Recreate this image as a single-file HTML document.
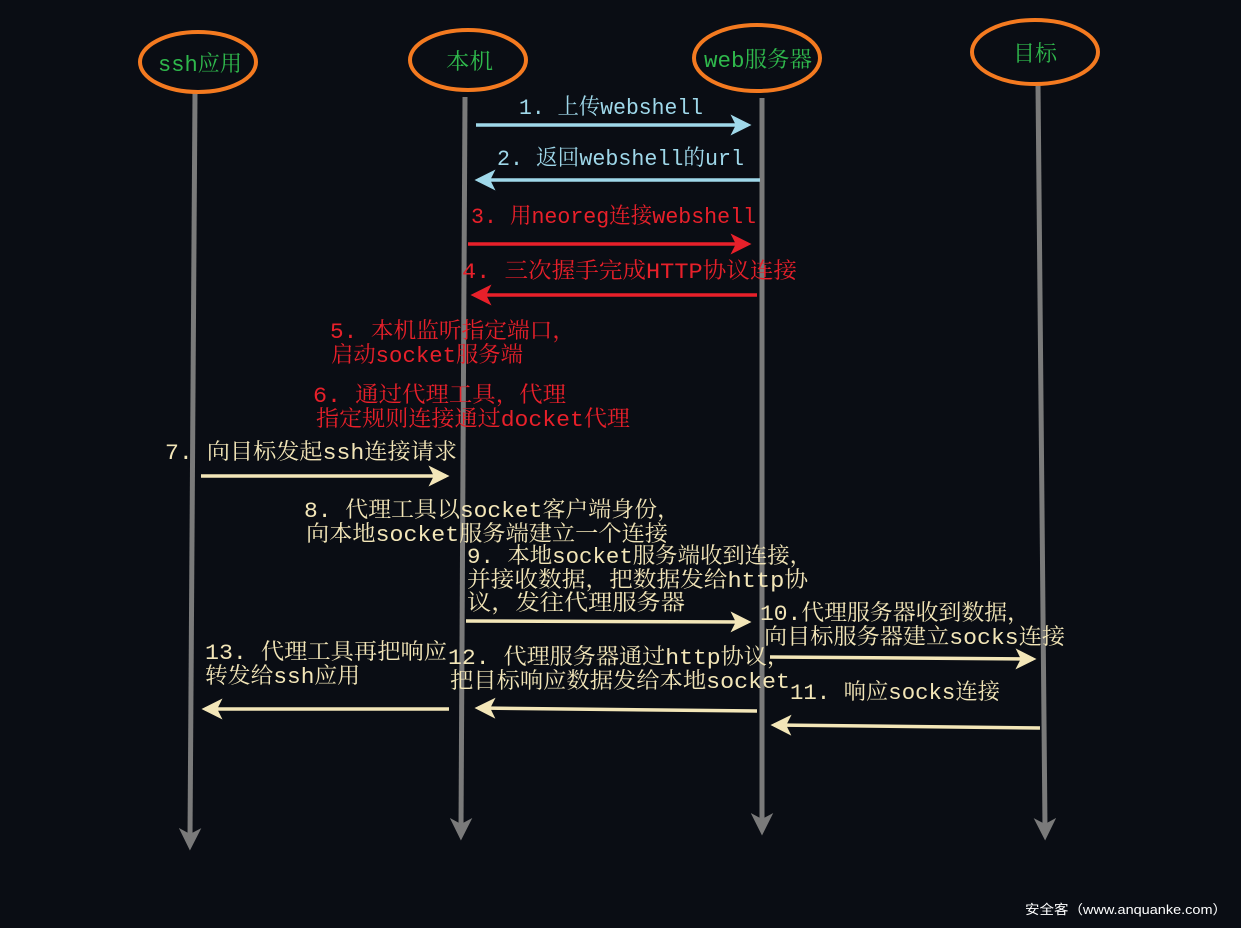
<!DOCTYPE html>
<html><head><meta charset="utf-8"><style>
html,body{margin:0;padding:0;background:#0a0d14;}
svg{display:block}
text{font-family:"Liberation Mono","Noto Serif CJK SC","Noto Sans CJK SC",serif;font-size:22px;}
.b{fill:#9fd8ea}.r{fill:#e8202a}.y{fill:#f3e6b8}.g{fill:#2fb84c}
</style></head><body>
<svg width="1241" height="928" viewBox="0 0 1241 928">
<defs>
<marker id="ag" markerWidth="4.5" markerHeight="4.5" refX="2" refY="2.25" orient="auto" markerUnits="strokeWidth"><path d="M0,0 L4.5,2.25 L0,4.5 L1.2,2.25z" fill="#7a7a7a"/></marker>
<marker id="ab" markerWidth="6" markerHeight="6" refX="5" refY="3" orient="auto" markerUnits="strokeWidth"><path d="M0,0 L6,3 L0,6 L1.5,3z" fill="#9fd8ea"/></marker>
<marker id="ar" markerWidth="6" markerHeight="6" refX="5" refY="3" orient="auto" markerUnits="strokeWidth"><path d="M0,0 L6,3 L0,6 L1.5,3z" fill="#e8202a"/></marker>
<marker id="ay" markerWidth="6" markerHeight="6" refX="5" refY="3" orient="auto" markerUnits="strokeWidth"><path d="M0,0 L6,3 L0,6 L1.5,3z" fill="#f3e6b8"/></marker>
</defs>
<g stroke="#7a7a7a" stroke-width="5" marker-end="url(#ag)">
<line x1="195" y1="93" x2="190" y2="838"/>
<line x1="465" y1="97" x2="461" y2="828"/>
<line x1="762" y1="98" x2="762" y2="823"/>
<line x1="1038" y1="84" x2="1045" y2="828"/>
</g>
<g fill="none" stroke="#f47a20" stroke-width="4">
<ellipse cx="198" cy="62" rx="58" ry="30"/>
<ellipse cx="468" cy="60" rx="58" ry="30"/>
<ellipse cx="757" cy="58" rx="63" ry="33"/>
<ellipse cx="1035" cy="52" rx="63" ry="32"/>
</g>
<text class="g" x="158" y="71" textLength="84" lengthAdjust="spacingAndGlyphs">ssh应用</text>
<text class="g" x="446" y="69" textLength="47" lengthAdjust="spacingAndGlyphs">本机</text>
<text class="g" x="704" y="67" textLength="108" lengthAdjust="spacingAndGlyphs">web服务器</text>
<text class="g" x="1013" y="61" textLength="44" lengthAdjust="spacingAndGlyphs">目标</text>
<g stroke-width="3.5" fill="none">
<line x1="476" y1="125" x2="748" y2="125" stroke="#9fd8ea" marker-end="url(#ab)"/>
<line x1="760" y1="180" x2="478" y2="180" stroke="#9fd8ea" marker-end="url(#ab)"/>
<line x1="468" y1="244" x2="748" y2="244" stroke="#e8202a" marker-end="url(#ar)"/>
<line x1="757" y1="295" x2="474" y2="295" stroke="#e8202a" marker-end="url(#ar)"/>
<line x1="201" y1="476" x2="446" y2="476" stroke="#f3e6b8" marker-end="url(#ay)"/>
<line x1="466" y1="621" x2="748" y2="622" stroke="#f3e6b8" marker-end="url(#ay)"/>
<line x1="770" y1="657" x2="1033" y2="659" stroke="#f3e6b8" marker-end="url(#ay)"/>
<line x1="1040" y1="728" x2="774" y2="725" stroke="#f3e6b8" marker-end="url(#ay)"/>
<line x1="757" y1="711" x2="478" y2="708" stroke="#f3e6b8" marker-end="url(#ay)"/>
<line x1="449" y1="709" x2="205" y2="709" stroke="#f3e6b8" marker-end="url(#ay)"/>
</g>
<g>
<text class="b" x="519" y="114" textLength="184" lengthAdjust="spacingAndGlyphs">1. 上传webshell</text>
<text class="b" x="497" y="165" textLength="247" lengthAdjust="spacingAndGlyphs">2. 返回webshell的url</text>
<text class="r" x="471" y="223" textLength="285" lengthAdjust="spacingAndGlyphs">3. 用neoreg连接webshell</text>
<text class="r" x="462" y="278" textLength="335" lengthAdjust="spacingAndGlyphs">4. 三次握手完成HTTP协议连接</text>
<text class="r" x="330" y="338" textLength="245" lengthAdjust="spacingAndGlyphs">5. 本机监听指定端口，</text>
<text class="r" x="331" y="362" textLength="192" lengthAdjust="spacingAndGlyphs">启动socket服务端</text>
<text class="r" x="313" y="402" textLength="253" lengthAdjust="spacingAndGlyphs">6. 通过代理工具，代理</text>
<text class="r" x="316" y="426" textLength="314" lengthAdjust="spacingAndGlyphs">指定规则连接通过docket代理</text>
<text class="y" x="165" y="459" textLength="292" lengthAdjust="spacingAndGlyphs">7. 向目标发起ssh连接请求</text>
<text class="y" x="304" y="517" textLength="376" lengthAdjust="spacingAndGlyphs">8. 代理工具以socket客户端身份，</text>
<text class="y" x="306" y="541" textLength="362" lengthAdjust="spacingAndGlyphs">向本地socket服务端建立一个连接</text>
<text class="y" x="467" y="563" textLength="345" lengthAdjust="spacingAndGlyphs">9. 本地socket服务端收到连接，</text>
<text class="y" x="467" y="587" textLength="341" lengthAdjust="spacingAndGlyphs">并接收数据，把数据发给http协</text>
<text class="y" x="467" y="610" textLength="218" lengthAdjust="spacingAndGlyphs">议，发往代理服务器</text>
<text class="y" x="760" y="620" textLength="270" lengthAdjust="spacingAndGlyphs">10.代理服务器收到数据，</text>
<text class="y" x="764" y="644" textLength="301" lengthAdjust="spacingAndGlyphs">向目标服务器建立socks连接</text>
<text class="y" x="790" y="699" textLength="210" lengthAdjust="spacingAndGlyphs">11. 响应socks连接</text>
<text class="y" x="448" y="664" textLength="342" lengthAdjust="spacingAndGlyphs">12. 代理服务器通过http协议，</text>
<text class="y" x="450" y="688" textLength="340" lengthAdjust="spacingAndGlyphs">把目标响应数据发给本地socket</text>
<text class="y" x="205" y="659" textLength="242" lengthAdjust="spacingAndGlyphs">13. 代理工具再把响应</text>
<text class="y" x="205" y="683" textLength="155" lengthAdjust="spacingAndGlyphs">转发给ssh应用</text>
</g>
<text x="1025" y="914" fill="#ffffff" style="font-family:'Liberation Sans','Noto Sans CJK SC',sans-serif;font-size:13px" textLength="202" lengthAdjust="spacingAndGlyphs">安全客（www.anquanke.com）</text>
</svg>
</body></html>
